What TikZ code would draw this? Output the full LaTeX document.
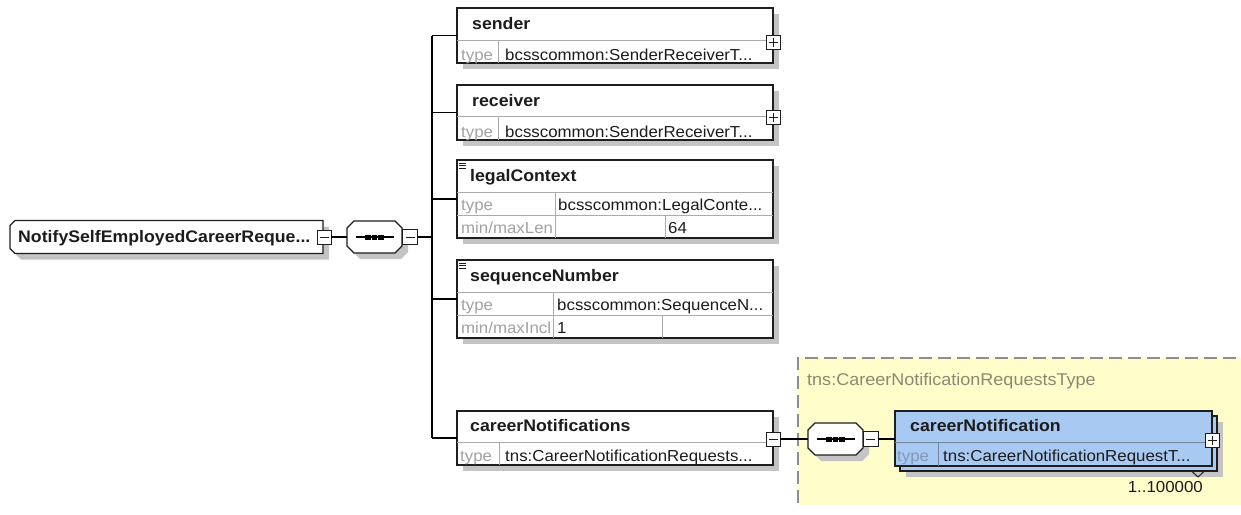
\documentclass[tikz,border=0pt]{standalone}
\usepackage{fontspec}
\setmainfont{Liberation Sans}[FakeStretch=1.06]
\usetikzlibrary{shadows,calc}
\definecolor{bord}{HTML}{1E1E1E}
\definecolor{sepc}{HTML}{ABABAB}
\definecolor{shad}{HTML}{C4C4C4}
\definecolor{lbl}{HTML}{A2A2A2}
\definecolor{yel}{HTML}{FFFDC9}
\definecolor{yelbd}{HTML}{8E8E8E}
\definecolor{ytitle}{HTML}{8A8A74}
\definecolor{blu}{HTML}{A8C9F2}
\definecolor{blulbl}{HTML}{8497B5}
\definecolor{txt}{HTML}{1C1C1C}
\tikzset{
  myshadow/.style={drop shadow={shadow xshift=6pt, shadow yshift=-6pt, fill=shad, opacity=1}},
  elbox/.style={rectangle, draw=bord, line width=1.3pt, fill=white, inner sep=0pt, outer sep=0pt, anchor=north west, myshadow},
  bluebox/.style={elbox, fill=blu},
  anchorbox/.style={rectangle, inner sep=0pt, outer sep=0pt, anchor=north west},
  outline/.style={draw=bord, line width=1.3pt, fill=white},
  tog/.style={rectangle, draw=bord, line width=0.9pt, fill=white, minimum size=14pt, inner sep=0pt, outer sep=0pt},
  conn/.style={draw=black, line width=1.3pt},
  sepline/.style={draw=sepc, line width=0.9pt},
  ttl/.style={font=\fontsize{16.7}{19}\selectfont\bfseries, text=txt, inner sep=0pt, anchor=base west},
  val/.style={font=\fontsize{15.9}{18}\selectfont, text=txt, inner sep=0pt, anchor=base west},
  lab/.style={val, text=lbl},
  togmark/.style={draw=bord, line width=1pt},
}
\newcommand\minusmark[1]{\draw[togmark] ($(#1.center)+(-4.5,0)$) -- ($(#1.center)+(4.5,0)$);}
\newcommand\plusmark[1]{\draw[togmark] ($(#1.center)+(-4.5,0)$) -- ($(#1.center)+(4.5,0)$) ($(#1.center)+(0,-4.5)$) -- ($(#1.center)+(0,4.5)$);}
\newcommand\dotline[1]{\draw[line width=1.4pt, black] ($(#1.center)+(-19,0)$) -- ($(#1.center)+(19,0)$);
  \foreach \dx in {-6.5,0,6.5} {\fill[black] ($(#1.center)+(\dx,0)+(-2.6,-2.5)$) rectangle ($(#1.center)+(\dx,0)+(2.6,2.5)$);}}
\newcommand\simpleicon[2]{\foreach \dy in {0,2.5,5} {\draw[bord, line width=0.7pt] (#1,#2+\dy) -- (#1+7,#2+\dy);}}
% octagon (sequence compositor): #1 node, #2 offset, #3 options
\newcommand\octoshape[3]{\path[#3] ($(#1.north west)+(7+#2,#2)$) -- ($(#1.north east)+(-7+#2,#2)$) -- ($(#1.north east)+(#2,7+#2)$) -- ($(#1.south east)+(#2,-7+#2)$) -- ($(#1.south east)+(-7+#2,#2)$) -- ($(#1.south west)+(7+#2,#2)$) -- ($(#1.south west)+(#2,-7+#2)$) -- ($(#1.north west)+(#2,7+#2)$) -- cycle;}
% root element: chamfered on the left
\newcommand\rootshape[3]{\path[#3] ($(#1.north west)+(5+#2,#2)$) -- ($(#1.north east)+(#2,#2)$) -- ($(#1.south east)+(#2,#2)$) -- ($(#1.south west)+(5+#2,#2)$) -- ($(#1.south west)+(#2,-5+#2)$) -- ($(#1.north west)+(#2,5+#2)$) -- cycle;}
\begin{document}
\begin{tikzpicture}[x=1pt, y=-1pt]
\useasboundingbox (0,0) rectangle (1241,514);
\fill[white] (0,0) rectangle (1241,514);

% yellow complex type area
\fill[yel] (798,358) rectangle (1245,505);
\draw[yelbd, line width=1.2pt, dash pattern=on 13pt off 6pt] (798,503) -- (798,358) -- (1245,358);
\node[font=\fontsize{17}{20}\selectfont, text=ytitle, inner sep=0pt, anchor=base west] (ytitle) at (807,385) {tns:CareerNotificationRequestsType};

% bus
\coordinate (bus) at (432,0);

% root element
\node[anchorbox, minimum width=313pt, minimum height=33pt] (root) at (10,220.5) {};
\rootshape{root}{6}{fill=shad}
\rootshape{root}{0}{outline}
\node[ttl] (troot) at (18,242) {NotifySelfEmployedCareerReque...};
\node[tog] (rootm) at (324,237) {};
\minusmark{rootm}

% sequence 1
\node[anchorbox, minimum width=55pt, minimum height=32pt] (seq1) at (347,221) {};
\octoshape{seq1}{6}{fill=shad}
\octoshape{seq1}{0}{outline}
\dotline{seq1}
\node[tog, minimum size=15pt] (seq1m) at (410,237) {};
\minusmark{seq1m}
\draw[conn] (rootm.east) -- (seq1.west);
\draw[conn] (seq1m.east) -- (seq1m.east -| bus);

% sender
\node[elbox, minimum width=316pt, minimum height=55pt] (sender) at (457,8) {};
\draw[sepline] (457,40) -- (773,40) (498,40) -- (498,63);
\node[ttl] (tsender) at (472,29) {sender};
\node[lab] (lsender) at (461,60) {type};
\node[val] (vsender) at (505,60) {bcsscommon:SenderReceiverT...};
\node[tog] (senderp) at (773,42) {};
\plusmark{senderp}

% receiver
\node[elbox, minimum width=316pt, minimum height=55pt] (receiver) at (457,85) {};
\draw[sepline] (457,116) -- (773,116) (498,116) -- (498,140);
\node[ttl] (treceiver) at (472,106) {receiver};
\node[lab] (lreceiver) at (461,137) {type};
\node[val] (vreceiver) at (505,137) {bcsscommon:SenderReceiverT...};
\node[tog] (receiverp) at (773,117) {};
\plusmark{receiverp}

% legalContext
\node[elbox, minimum width=316pt, minimum height=78pt] (legal) at (457,160) {};
\draw[sepline] (457,192) -- (773,192) (457,215) -- (773,215) (555,192) -- (555,238) (665,215) -- (665,238);
\simpleicon{459}{163}
\node[ttl] (tlegal) at (470,181) {legalContext};
\node[lab] (llegal1) at (461,210) {type};
\node[val] (vlegal1) at (558,210) {bcsscommon:LegalConte...};
\node[lab] (llegal2) at (461,233) {min/maxLen};
\node[val] (vlegal2) at (668,233) {64};

% sequenceNumber
\node[elbox, minimum width=316pt, minimum height=78pt] (seqnum) at (457,260) {};
\draw[sepline] (457,292) -- (773,292) (457,315) -- (773,315) (553,292) -- (553,338) (662,315) -- (662,338);
\simpleicon{459}{263}
\node[ttl] (tseqnum) at (470,281) {sequenceNumber};
\node[lab] (lseqnum1) at (461,310) {type};
\node[val] (vseqnum1) at (557,310) {bcsscommon:SequenceN...};
\node[lab] (lseqnum2) at (461,333) {min/maxIncl};
\node[val] (vseqnum2) at (557,333) {1};

% careerNotifications
\node[elbox, minimum width=316pt, minimum height=54pt] (cnots) at (457,411) {};
\draw[sepline] (457,442) -- (773,442) (499,442) -- (499,465);
\node[ttl] (tcnots) at (470,431) {careerNotifications};
\node[lab] (lcnots) at (460,461) {type};
\node[val] (vcnots) at (505,461) {tns:CareerNotificationRequests...};
\node[tog] (cnotsm) at (773,439) {};
\minusmark{cnotsm}

% bus connectors
\draw[conn] (bus |- sender.west) -- (bus |- cnots.west);
\foreach \n in {sender,receiver,legal,seqnum,cnots} {\draw[conn] (\n.west -| bus) -- (\n.west);}

% sequence 2
\node[anchorbox, minimum width=55pt, minimum height=32pt] (seq2) at (808,423) {};
\octoshape{seq2}{6}{fill=shad}
\octoshape{seq2}{0}{outline}
\dotline{seq2}
\node[tog, minimum size=15pt] (seq2m) at (870.5,439) {};
\minusmark{seq2m}
\draw[conn] (cnotsm.east) -- (seq2.west);

% careerNotification (repeated)
\node[bluebox, minimum width=317pt, minimum height=55pt] (cnback) at (900,416) {};
\node[rectangle, draw=bord, line width=1.3pt, fill=blu, inner sep=0pt, outer sep=0pt, anchor=north west, minimum width=317pt, minimum height=55pt] (cn) at (895,411) {};
\draw[conn] (seq2m.east) -- (seq2m.east -| cn.west);
\draw[draw=bord!40!blu, line width=0.9pt] (895,442) -- (1212,442) (938,442) -- (938,466);
\node[ttl] (tcn) at (910,431) {careerNotification};
\node[val, text=blulbl] (lcn) at (897,461) {type};
\node[val] (vcn) at (943,461) {tns:CareerNotificationRequestT...};
\node[tog] (cnp) at (1212,440) {};
\plusmark{cnp}
\draw[togmark] (1192,471.5) -- (1198,477) -- (1204,471.5);
\node[val, anchor=base east] (card) at (1203,492) {1..100000};
\end{tikzpicture}
\end{document}
